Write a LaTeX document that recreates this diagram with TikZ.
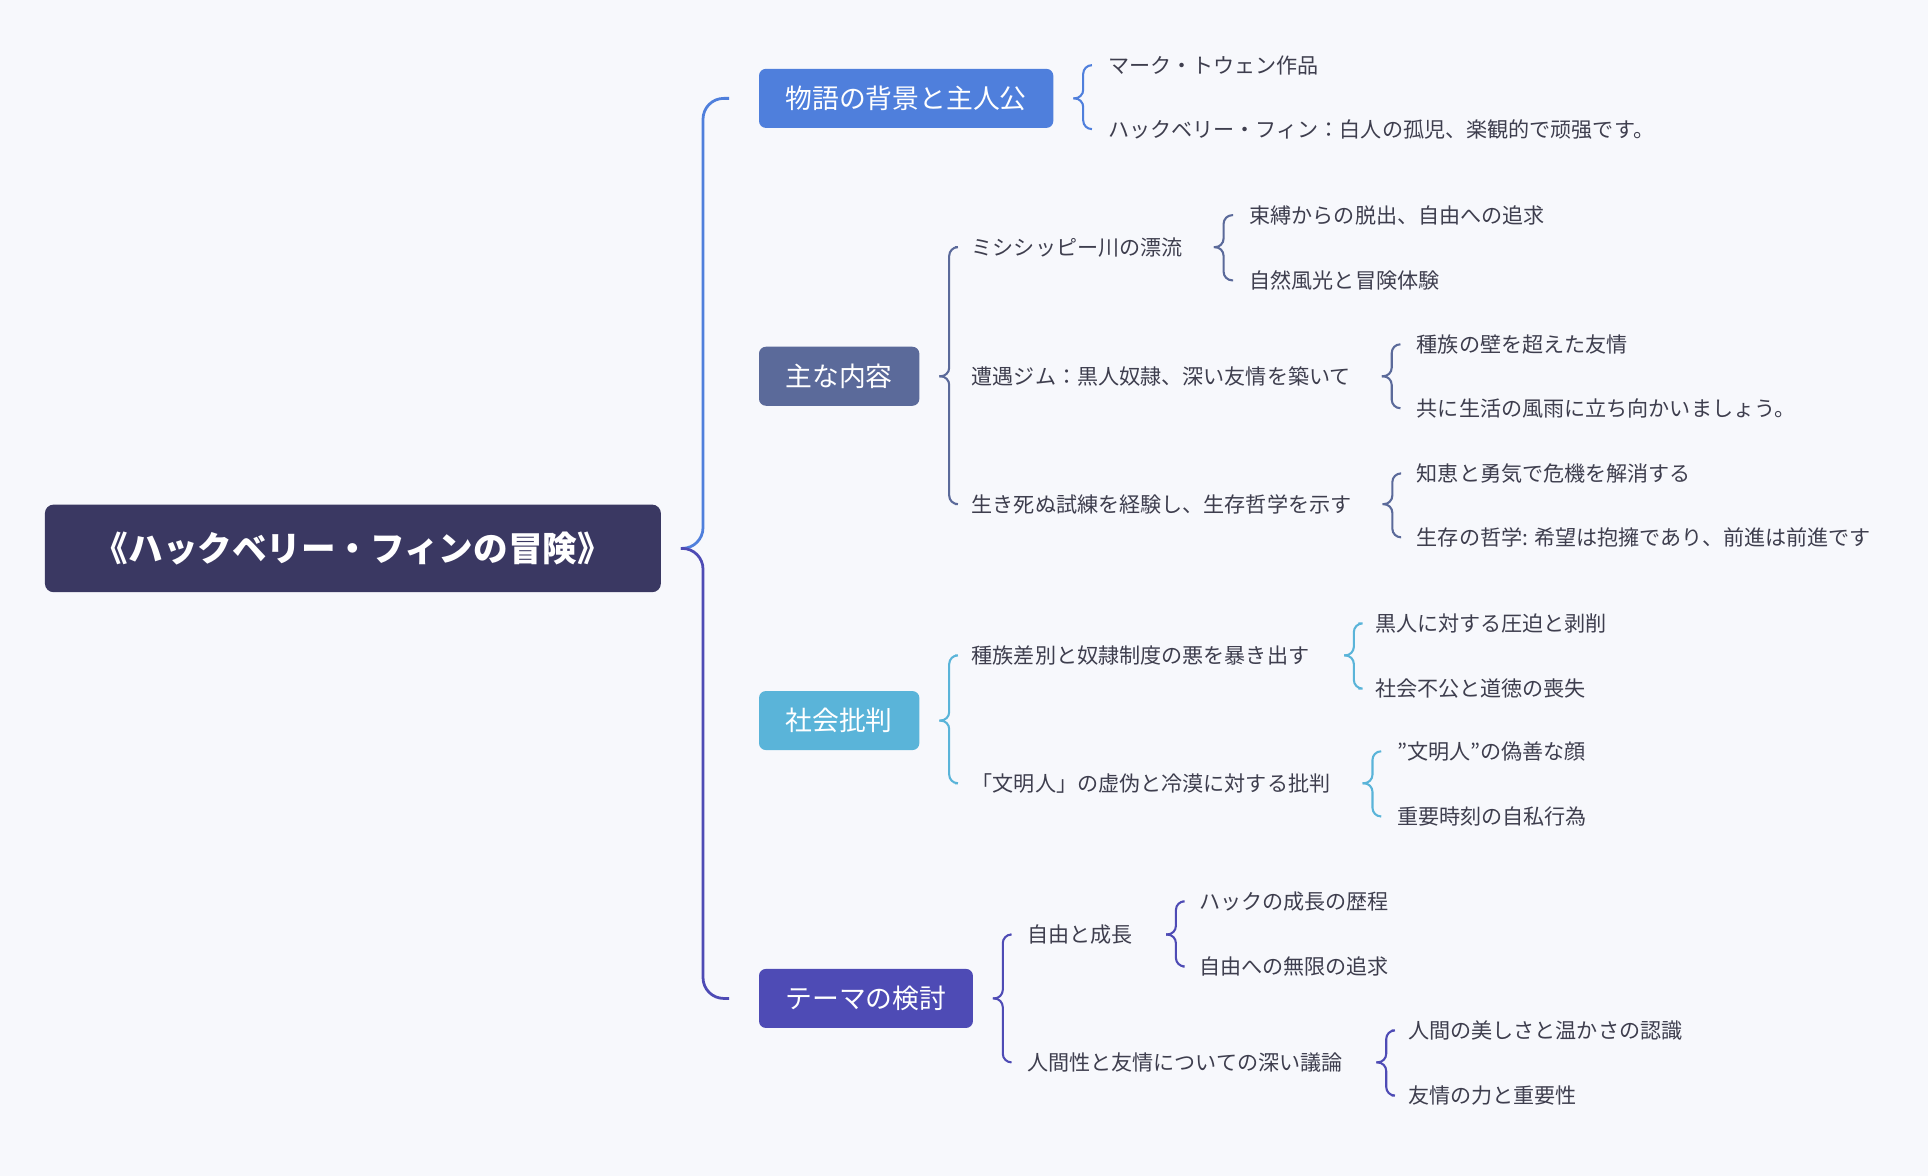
\documentclass[tikz,border=0pt]{standalone}
\usepackage{fontspec}
\setmainfont{Noto Sans CJK JP}
\usetikzlibrary{positioning, calc}

\definecolor{bgcol}{HTML}{F7F8FC}
\definecolor{rootcol}{HTML}{3A3862}
\definecolor{bluecol}{HTML}{4F7FDC}
\definecolor{slatecol}{HTML}{5B6A9A}
\definecolor{skycol}{HTML}{5AB4D9}
\definecolor{indigocol}{HTML}{4E4BB5}
\definecolor{txtcol}{HTML}{3E3E4E}

\begin{document}
\begin{tikzpicture}[
  x=0.025cm, y=-0.025cm,
  root/.style = {
    fill=rootcol,
    text=white,
    rounded corners=5pt,
    minimum width=12.52cm,
    minimum height=1.78cm,
    font=\fontsize{20}{24}\selectfont\bfseries
  },
  topic/.style = {
    fill=#1,
    text=white,
    rounded corners=4pt,
    minimum height=1.2cm,
    inner xsep=0.54cm,
    font=\fontsize{15.5}{18}\selectfont
  },
  leaf/.style = {
    anchor=west,
    inner sep=0pt,
    text=txtcol,
    font=\fontsize{12.2}{14}\selectfont
  },
  mainbr/.style = {draw=#1, line width=1.6pt, rounded corners=12pt, shorten >=0.6cm},
  br/.style = {draw=#1, line width=1.2pt, rounded corners=5pt, shorten >=0.33cm}
]

\fill[bgcol] (0,0) rectangle (1568,956);

% ======================================================
% ROOT AND TOPICS
% ======================================================

\node[root] (root) at (287,446) {《ハックベリー・フィンの冒険》};

\node[topic=bluecol, anchor=west]   (story)  at (617,80)  {物語の背景と主人公};
\node[topic=slatecol, anchor=west]  (plot)   at (617,306) {主な内容};
\node[topic=skycol, anchor=west]    (critic) at (617,586) {社会批判};
\node[topic=indigocol, anchor=west] (theme)  at (617,812) {テーマの検討};

\draw[mainbr=bluecol]   ($(root.east)+(16,0)$) -- ++(18,0) |- (story.west);
\draw[mainbr=indigocol] ($(root.east)+(16,0)$) -- ++(18,0) |- (theme.west);

% ---- Story ----
\node[leaf] (twain) at (901,53)  {マーク・トウェン作品};
\node[leaf] (huck)  at (901,105) {ハックベリー・フィン：白人の孤児、楽観的で顽强です。};
\foreach \c in {twain, huck}
  \draw[br=bluecol] ($(story.east)+(16,0)$) -- ++(8,0) |- (\c.west);

% ---- Plot ----
\node[leaf] (river) at (790,201) {ミシシッピー川の漂流};
\node[leaf] (jim)   at (790,306) {遭遇ジム：黒人奴隷、深い友情を築いて};
\node[leaf] (trial) at (790,410) {生き死ぬ試練を経験し、生存哲学を示す};
\foreach \c in {river, trial}
  \draw[br=slatecol] ($(plot.east)+(16,0)$) -- ++(8,0) |- (\c.west);

\node[leaf] (escape) at (1016,175) {束縛からの脱出、自由への追求};
\node[leaf] (nature) at (1016,228) {自然風光と冒険体験};
\foreach \c in {escape, nature}
  \draw[br=slatecol] ($(river.east)+(25,0)$) -- ++(8,0) |- (\c.west);

\node[leaf] (wall)  at (1152,280) {種族の壁を超えた友情};
\node[leaf] (storm) at (1152,332) {共に生活の風雨に立ち向かいましょう。};
\foreach \c in {wall, storm}
  \draw[br=slatecol] ($(jim.east)+(25,0)$) -- ++(8,0) |- (\c.west);

\node[leaf] (wisdom) at (1152,385) {知恵と勇気で危機を解消する};
\node[leaf] (philo)  at (1152,437) {生存の哲学: 希望は抱擁であり、前進は前進です};
\foreach \c in {wisdom, philo}
  \draw[br=slatecol] ($(trial.east)+(25,0)$) -- ++(8,0) |- (\c.west);

% ---- Critic ----
\node[leaf] (racism)   at (790,533) {種族差別と奴隷制度の悪を暴き出す};
\node[leaf] (civilian) at (790,637) {「文明人」の虚伪と冷漠に対する批判};
\foreach \c in {racism, civilian}
  \draw[br=skycol] ($(critic.east)+(16,0)$) -- ++(8,0) |- (\c.west);

\node[leaf] (oppress) at (1118,507) {黒人に対する圧迫と剥削};
\node[leaf] (unjust)  at (1118,560) {社会不公と道徳の喪失};
\foreach \c in {oppress, unjust}
  \draw[br=skycol] ($(racism.east)+(28,0)$) -- ++(8,0) |- (\c.west);

\node[leaf] (face)   at (1136,611) {"文明人"の偽善な顔};
\node[leaf] (selfish) at (1136,664) {重要時刻の自私行為};
\foreach \c in {face, selfish}
  \draw[br=skycol] ($(civilian.east)+(26,0)$) -- ++(8,0) |- (\c.west);

% ---- Theme ----
\node[leaf] (freedom)  at (835,760) {自由と成長};
\node[leaf] (humanity) at (835,864) {人間性と友情についての深い議論};
\foreach \c in {freedom, humanity}
  \draw[br=indigocol] ($(theme.east)+(16,0)$) -- ++(8,0) |- (\c.west);

\node[leaf] (growth) at (975,733) {ハックの成長の歴程};
\node[leaf] (pursuit) at (975,786) {自由への無限の追求};
\foreach \c in {growth, pursuit}
  \draw[br=indigocol] ($(freedom.east)+(27,0)$) -- ++(8,0) |- (\c.west);

\node[leaf] (beauty) at (1145,838) {人間の美しさと温かさの認識};
\node[leaf] (power)  at (1145,891) {友情の力と重要性};
\foreach \c in {beauty, power}
  \draw[br=indigocol] ($(humanity.east)+(27,0)$) -- ++(8,0) |- (\c.west);

\end{tikzpicture}
\end{document}
